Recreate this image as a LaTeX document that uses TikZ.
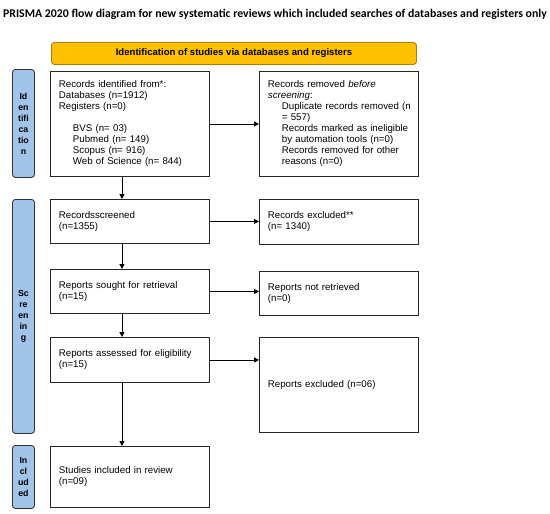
\documentclass[tikz,border=0pt]{standalone}
\usepackage{fontspec}
\setmainfont{Liberation Sans}
\newfontfamily\titlefont{Carlito}
\usepackage{xcolor}
\definecolor{prismaGold}{HTML}{FFC000}
\definecolor{prismaGoldEdge}{HTML}{A87C10}
\definecolor{prismaBlue}{HTML}{A2C4E8}
\usetikzlibrary{arrows.meta}

\tikzset{
  box/.style={draw=black!85, line width=0.9pt, anchor=north west, inner xsep=8.5pt, inner ysep=0pt,
    text width=142pt, align=left, font=\fontsize{9.7}{11}\selectfont},
  phase/.style={draw=black!80, fill=prismaBlue, rounded corners=3pt, line width=0.9pt, anchor=north west,
    inner sep=0pt, minimum width=22pt, align=center, font=\fontsize{8.8}{11}\bfseries\selectfont},
}
\newcommand{\ind}{\hspace*{14pt}}

\begin{document}
\begin{tikzpicture}[x=1pt, y=-1pt, >={Triangle[length=5pt,width=5pt]}]
  \useasboundingbox (0,0) rectangle (550,514);
  % ------- title and header -------
  \node[font=\titlefont\fontsize{11.8}{13}\bfseries\selectfont] (title) at (275,14)
    {PRISMA 2020 flow diagram for new systematic reviews which included searches of databases and registers only};
  \node[draw=prismaGoldEdge, fill=prismaGold, rounded corners=3pt, line width=0.9pt, anchor=north west,
    minimum width=365pt, minimum height=22pt, font=\fontsize{9.6}{11}\bfseries\selectfont] (header) at (51,42)
    {Identification of studies via databases and registers};
  % ------- phase bars -------
  \node[phase, minimum height=108pt] (identbar) at (12,69) {Id\\en\\tifi\\ca\\tio\\n};
  \node[phase, minimum height=234pt] (screenbar) at (12,199) {Sc\\re\\en\\in\\g};
  \node[phase, minimum height=63pt] (inclbar) at (12,445) {In\\cl\\ud\\ed};
  % ------- left column -------
  \node[box, minimum height=105pt] (ident) at (50,71)
    {Records identified from*:\\Databases (n=1912)\\Registers (n=0)\\[11pt]
     \ind BVS (n= 03)\\\ind Pubmed (n= 149)\\\ind Scopus (n= 916)\\\ind Web of Science (n= 844)};
  \node[box, minimum height=44pt] (screened) at (50,199) {Recordsscreened\\(n=1355)};
  \node[box, minimum height=44pt] (sought) at (50,269) {Reports sought for retrieval\\(n=15)};
  \node[box, minimum height=45pt] (assessed) at (50,337) {Reports assessed for eligibility\\(n=15)};
  \node[box, minimum height=61pt] (included) at (50,446) {Studies included in review\\(n=09)};
  % ------- right column -------
  \node[box, minimum height=105pt] (removed) at (259,71)
    {Records removed \textit{before}\\\textit{screening}:\\\ind\makebox[126pt][l]{Duplicate records removed (n}\\\ind = 557)\\
     \ind Records marked as ineligible\\\ind by automation tools (n=0)\\\ind Records removed for other\\\ind reasons (n=0)};
  \node[box, minimum height=45pt] (excluded) at (259,199) {Records excluded**\\(n= 1340)};
  \node[box, minimum height=44pt] (notretr) at (259,271) {Reports not retrieved\\(n=0)};
  \node[box, minimum height=95pt] (repexcl) at (259,337) {Reports excluded (n=06)};
  % ------- arrows -------
  \draw[->, line width=0.9pt] (ident.east) -- (ident.east -| removed.west);
  \draw[->, line width=0.9pt] (screened.east) -- (screened.east -| excluded.west);
  \draw[->, line width=0.9pt] (sought.east) -- (sought.east -| notretr.west);
  \draw[->, line width=0.9pt] (assessed.east) -- (assessed.east -| repexcl.west);
  \draw[->, line width=0.9pt] ([xshift=-8pt]ident.south) -- ([xshift=-8pt]screened.north);
  \draw[->, line width=0.9pt] ([xshift=-8pt]screened.south) -- ([xshift=-8pt]sought.north);
  \draw[->, line width=0.9pt] ([xshift=-8pt]sought.south) -- ([xshift=-8pt]assessed.north);
  \draw[->, line width=0.9pt] ([xshift=-8pt]assessed.south) -- ([xshift=-8pt]included.north);
\end{tikzpicture}
\end{document}
